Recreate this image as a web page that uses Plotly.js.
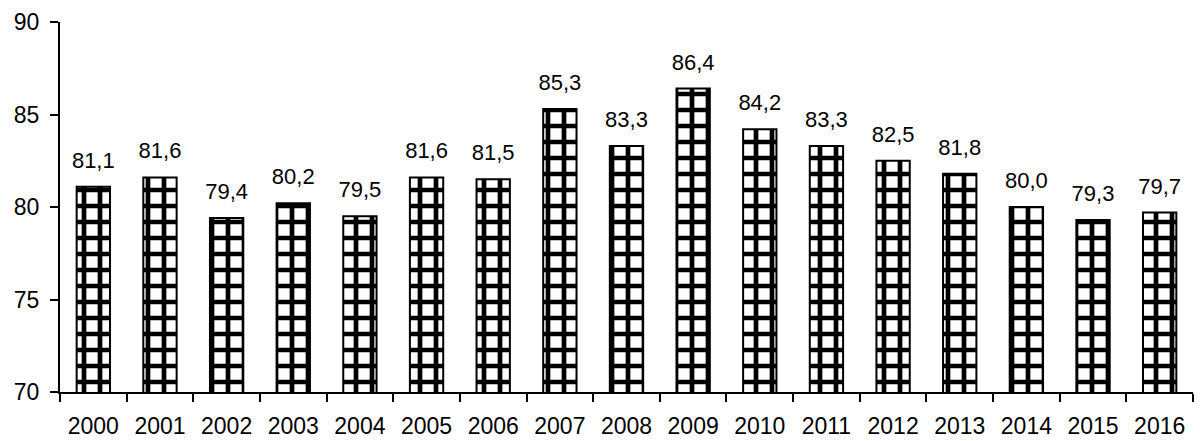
<!DOCTYPE html>
<html><head><meta charset="utf-8">
<script src="https://cdn.plot.ly/plotly-3.0.1.min.js"></script>
<style>html,body{margin:0;padding:0;background:#fff}#chart{width:1200px;height:441px}</style>
</head><body><div id="chart"></div>
<script>
const years = ["2000","2001","2002","2003","2004","2005","2006","2007","2008","2009","2010","2011","2012","2013","2014","2015","2016"];
const values = [81.1,81.6,79.4,80.2,79.5,81.6,81.5,85.3,83.3,86.4,84.2,83.3,82.5,81.8,80.0,79.3,79.7];
const labels = values.map(v => v.toFixed(1).replace('.', ','));
const yTicks = [70,75,80,85,90];

const bars = {
  type: 'bar', x: years, y: values,
  width: 0.5,
  marker: {color: '#fff', line: {color: '#000', width: 2},
    pattern: {shape: '+', fgcolor: '#000', fgopacity: 1, bgcolor: '#fff', size: 16, solidity: 0.5, fillmode: 'replace'}},
  hoverinfo: 'none'
};
const valueLabels = {
  type: 'scatter', mode: 'markers+text', x: years, y: values, text: labels,
  textposition: 'top center', cliponaxis: false,
  marker: {size: 20, opacity: 0, color: '#fff'},
  textfont: {family: 'Arial, Liberation Sans', size: 22, color: '#000'},
  hoverinfo: 'none'
};
const layout = {
  width: 1200, height: 441,
  margin: {l: 60, r: 7, t: 22, b: 49},
  paper_bgcolor: '#fff', plot_bgcolor: '#fff',
  showlegend: false,
  font: {family: 'Arial, Liberation Sans', color: '#000', size: 23},
  xaxis: {type: 'category', range: [-0.5, 16.5], tickson: 'boundaries', ticks: 'outside', ticklen: 8, tickwidth: 2, tickcolor: '#000',
    showline: true, linecolor: '#000', linewidth: 2, showgrid: false, tickfont: {size: 23}, ticklabelstandoff: 12},
  yaxis: {range: [70, 90], tickvals: yTicks, ticktext: yTicks.map(String), ticks: 'outside', ticklen: 8, tickwidth: 2, tickcolor: '#000',
    showline: true, linecolor: '#000', linewidth: 2, showgrid: false, zeroline: false, tickfont: {size: 23}, ticklabelstandoff: 6}
};
Plotly.newPlot('chart', [bars, valueLabels], layout, {staticPlot: true});
</script></body></html>
